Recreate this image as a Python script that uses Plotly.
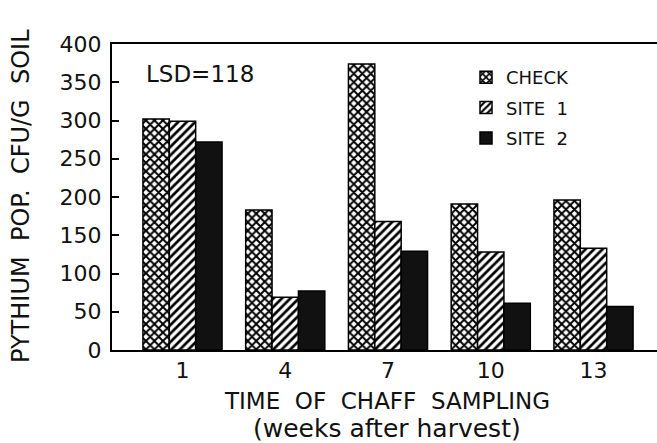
import plotly.graph_objects as go

weeks = ["1", "4", "7", "10", "13"]
check = [302, 183, 374, 191, 196]
site1 = [299, 69, 168, 128, 133]
site2 = [272, 77, 129, 61, 57]
y_ticks = [0, 50, 100, 150, 200, 250, 300, 350, 400]

FONT = "DejaVu Sans"
W, H = 657, 443
ML, MR, MT, MB = 112, 0, 44, 93
NB = "\u00a0"

fig = go.Figure()
fig.add_trace(go.Bar(
    x=weeks, y=check, name="CHECK", legendgroup="a",
    marker=dict(color="white", line=dict(color="black", width=1.5),
                pattern=dict(shape="x", fgcolor="black", bgcolor="white",
                             size=6, solidity=0.55, fillmode="replace")),
))
fig.add_trace(go.Bar(
    x=weeks, y=site1, name="SITE" + NB * 2 + "1", legendgroup="b",
    marker=dict(color="white", line=dict(color="black", width=1.5),
                pattern=dict(shape="/", fgcolor="black", bgcolor="white",
                             size=6, solidity=0.45, fillmode="replace")),
))
fig.add_trace(go.Bar(
    x=weeks, y=site2, name="SITE" + NB * 2 + "2", legendgroup="c",
    marker=dict(color="#111111", line=dict(color="black", width=1.5)),
))

pw = W - ML - MR
ph = H - MT - MB

def px_x(p):
    return (p - ML) / pw

def px_y(p):
    return (H - MB - p) / ph

fig.update_layout(
    width=W, height=H,
    margin=dict(l=ML, r=MR, t=MT, b=MB, pad=0),
    paper_bgcolor="white", plot_bgcolor="white",
    font=dict(family=FONT, color="#111111", size=22),
    barmode="group", bargap=0.23, bargroupgap=0,
    showlegend=True,
    legend=dict(x=px_x(466), y=px_y(59), xanchor="left", yanchor="top",
                font=dict(size=18, family=FONT), traceorder="grouped",
                tracegroupgap=4, bgcolor="rgba(0,0,0,0)", borderwidth=0),
    xaxis=dict(type="category", range=[-0.686, 4.618], showline=True,
               linecolor="black", linewidth=2, mirror=True, ticks="",
               showgrid=False, tickfont=dict(size=22), zeroline=False),
    yaxis=dict(range=[0, 400], tickvals=y_ticks, showline=True,
               linecolor="black", linewidth=2, mirror=False, ticks="inside",
               ticklen=7, tickwidth=1.5, tickcolor="black", showgrid=False,
               zeroline=False, tickfont=dict(size=22), ticklabelstandoff=4),
    annotations=[
        dict(text="LSD=118", x=px_x(144), y=px_y(74), xref="paper", yref="paper",
             xanchor="left", yanchor="middle", showarrow=False,
             font=dict(size=23, family=FONT)),
        dict(text="TIME" + NB * 2 + "OF" + NB * 2 + "CHAFF" + NB * 2 + "SAMPLING",
             x=px_x(387), y=px_y(401),
             xref="paper", yref="paper", xanchor="center", yanchor="middle",
             showarrow=False, font=dict(size=23, family=FONT)),
        dict(text="(weeks after harvest)", x=px_x(387), y=px_y(428),
             xref="paper", yref="paper", xanchor="center", yanchor="middle",
             showarrow=False, font=dict(size=25, family=FONT)),
        dict(text="PYTHIUM" + NB * 2 + "POP." + NB * 2 + "CFU/G" + NB * 2 + "SOIL",
             x=px_x(21), y=px_y(196),
             xref="paper", yref="paper", xanchor="center", yanchor="middle",
             showarrow=False, textangle=-90, font=dict(size=24, family=FONT)),
    ],
)

fig.write_html("out.html", config={"displayModeBar": False},
               post_script="document.body.style.margin='0';document.body.style.overflow='hidden';")
